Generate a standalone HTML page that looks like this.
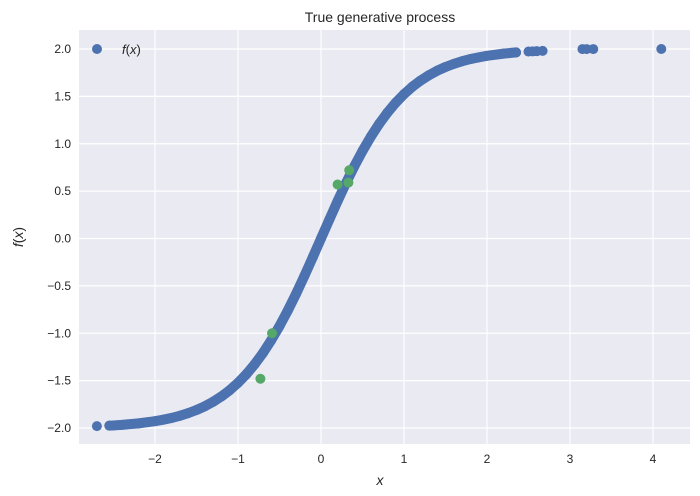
<!DOCTYPE html>
<html><head><meta charset="utf-8"><style>
body{margin:0;background:#fff;}
svg{display:block;font-family:"Liberation Sans",sans-serif;}
</style></head><body>
<svg id="chart" width="700" height="496">
<rect x="79" y="30" width="611" height="414" fill="#EAEAF2"/>
<g id="grid"></g><g id="ticks"></g><g id="marks"></g>
<text x="380" y="22" text-anchor="middle" font-size="14" fill="#262626">True generative process</text>
<text x="380" y="485" text-anchor="middle" font-size="14" font-style="italic" fill="#262626">x</text>
<text transform="translate(23,237) rotate(-90)" text-anchor="middle" font-size="14" fill="#262626"><tspan font-style="italic">f</tspan>(<tspan font-style="italic">x</tspan>)</text>
<g>
<circle cx="97" cy="49" r="5" fill="#4C72B0"/>
<text x="122" y="54" font-size="13" fill="#262626"><tspan font-style="italic">f</tspan>(<tspan font-style="italic">x</tspan>)</text>
</g>
</svg>
<script>
const xTicks=[-2,-1,0,1,2,3,4];
const yTicks=[-2.0,-1.5,-1.0,-0.5,0.0,0.5,1.0,1.5,2.0];
const curveX=[-2.55,-2.5,-2.4,-2.2,-2.0,-1.9,-1.8,-1.7,-1.6,-1.5,-1.4,-1.3,-1.2,-1.1,-1.0,-0.9,-0.8,-0.7,-0.6,-0.5,-0.4,-0.3,-0.2,-0.1,0,0.1,0.2,0.3,0.4,0.5,0.6,0.7,0.8,0.9,1.0,1.1,1.2,1.3,1.4,1.5,1.6,1.7,1.8,1.9,2.0,2.2,2.35];
const curveY=[-1.975,-1.973,-1.967,-1.951,-1.928,-1.912,-1.894,-1.871,-1.843,-1.810,-1.771,-1.723,-1.667,-1.601,-1.523,-1.433,-1.328,-1.209,-1.074,-0.924,-0.760,-0.583,-0.395,-0.199,0,0.199,0.395,0.583,0.760,0.924,1.074,1.209,1.328,1.433,1.523,1.601,1.667,1.723,1.771,1.810,1.843,1.871,1.894,1.912,1.928,1.951,1.964];
const outX=[-2.7,2.5,2.55,2.6,2.67,3.15,3.2,3.28,4.1];
const outY=[-1.98,1.973,1.975,1.977,1.98,1.999,1.999,1.999,2.0];
const obsX=[0.2,0.33,0.34,-0.59,-0.73];
const obsY=[0.57,0.59,0.72,-1.0,-1.48];
const sx=v=>321+83*v, sy=v=>238.5-94.75*v;
const NS='http://www.w3.org/2000/svg';
function mk(t,a,p){const e=document.createElementNS(NS,t);for(const k in a)e.setAttribute(k,a[k]);p.appendChild(e);return e;}
const g=document.getElementById('grid'),tk=document.getElementById('ticks'),m=document.getElementById('marks');
xTicks.forEach(v=>{
const l=mk('line',{x1:sx(v),x2:sx(v),y1:30,y2:444,stroke:'#fff','stroke-width':1.2},g);


const t=mk('text',{x:sx(v),y:463,'text-anchor':'middle','font-size':12,fill:'#262626'},tk);
t.textContent=v<0?'\u2212'+(-v):String(v);


});
yTicks.forEach(v=>{
const l=mk('line',{x1:79,x2:690,y1:sy(v),y2:sy(v),stroke:'#fff','stroke-width':1.2},g);


const t=mk('text',{x:71,y:sy(v)+4,'text-anchor':'end','font-size':12,fill:'#262626'},tk);
t.textContent=v<0?'\u2212'+(-v).toFixed(1):v.toFixed(1);


});
const pts=curveX.map((x,i)=>sx(x)+','+sy(curveY[i])).join(' ');
const pl=mk('polyline',{points:pts,fill:'none',stroke:'#4C72B0','stroke-width':10,'stroke-linecap':'round','stroke-linejoin':'round'},m);


curveX.forEach((x,i)=>{const c=mk('circle',{cx:sx(x),cy:sy(curveY[i]),r:5,fill:'#4C72B0'},m);

});
outX.forEach((x,i)=>{const c=mk('circle',{cx:sx(x),cy:sy(outY[i]),r:5,fill:'#4C72B0'},m);

});
obsX.forEach((x,i)=>{const c=mk('circle',{cx:sx(x),cy:sy(obsY[i]),r:5,fill:'#55A868'},m);

});
</script>
</body></html>
